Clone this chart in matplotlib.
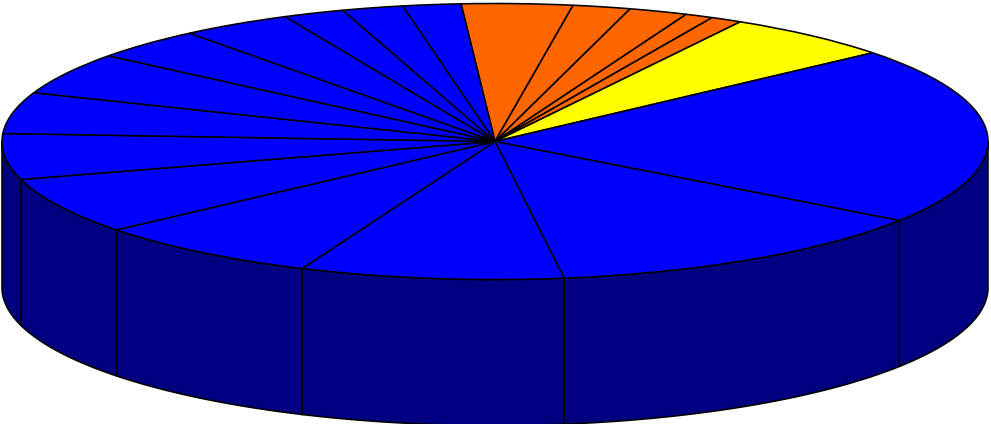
import numpy as np
import matplotlib
matplotlib.use("Agg")
import matplotlib.pyplot as plt

# Slice shares in percent, clockwise from the first orange slice
orange_shares = [3.63, 1.89, 1.92, 0.92, 1.03]
yellow_shares = [5.60]
blue_shares = [20.82, 13.06, 8.64, 7.54, 6.63, 5.36, 4.83, 4.91, 3.71, 3.64, 2.00, 2.00, 1.90]

ORANGE, YELLOW, BLUE, WALL = "#ff6600", "#ffff00", "#0000ff", "#000080"

shares = np.array(orange_shares + yellow_shares + blue_shares, dtype=float)
colours = [ORANGE] * len(orange_shares) + [YELLOW] * len(yellow_shares) + [BLUE] * len(blue_shares)

W, H = 991, 424
CX, CY, RX, RY, DEPTH = 495.0, 141.5, 493.0, 138.0, 146.0
START_CW = -3.95  # clockwise degrees from 12 o'clock to the first slice edge
LINE = 1.15

fig = plt.figure(figsize=(W / 100, H / 100), dpi=100, facecolor="white")
ax = fig.add_axes([0, 0, 1, 1])

# One data unit equals the ellipse radius, so a unit pie squashes into the disc
wedges, _ = ax.pie(
    shares, colors=colours, startangle=90 - START_CW, counterclock=False,
    radius=1.0, center=(0, 0),
    wedgeprops=dict(edgecolor="black", linewidth=LINE, zorder=3),
)
ax.set_aspect("auto")
ax.set_xlim((0 - CX) / RX, (W - CX) / RX)
ax.set_ylim((CY - H) / RY, CY / RY)
ax.axis("off")

# Cylinder wall: only the part of each slice on the near half of the disc
depth = DEPTH / RY
edges = START_CW + np.concatenate([[0], np.cumsum(shares)]) / shares.sum() * 360
for a, b in zip(edges[:-1], edges[1:]):
    lo, hi = max(a, 90.0), min(b, 270.0)
    if hi <= lo:
        continue
    t = np.radians(np.linspace(lo, hi, 80))
    x, y = np.sin(t), np.cos(t)
    ax.fill(np.r_[x, x[::-1]], np.r_[y, y[::-1] - depth],
            facecolor=WALL, edgecolor="black", linewidth=LINE, zorder=2, clip_on=True)

fig.savefig("out.png", dpi=100, facecolor="white")
